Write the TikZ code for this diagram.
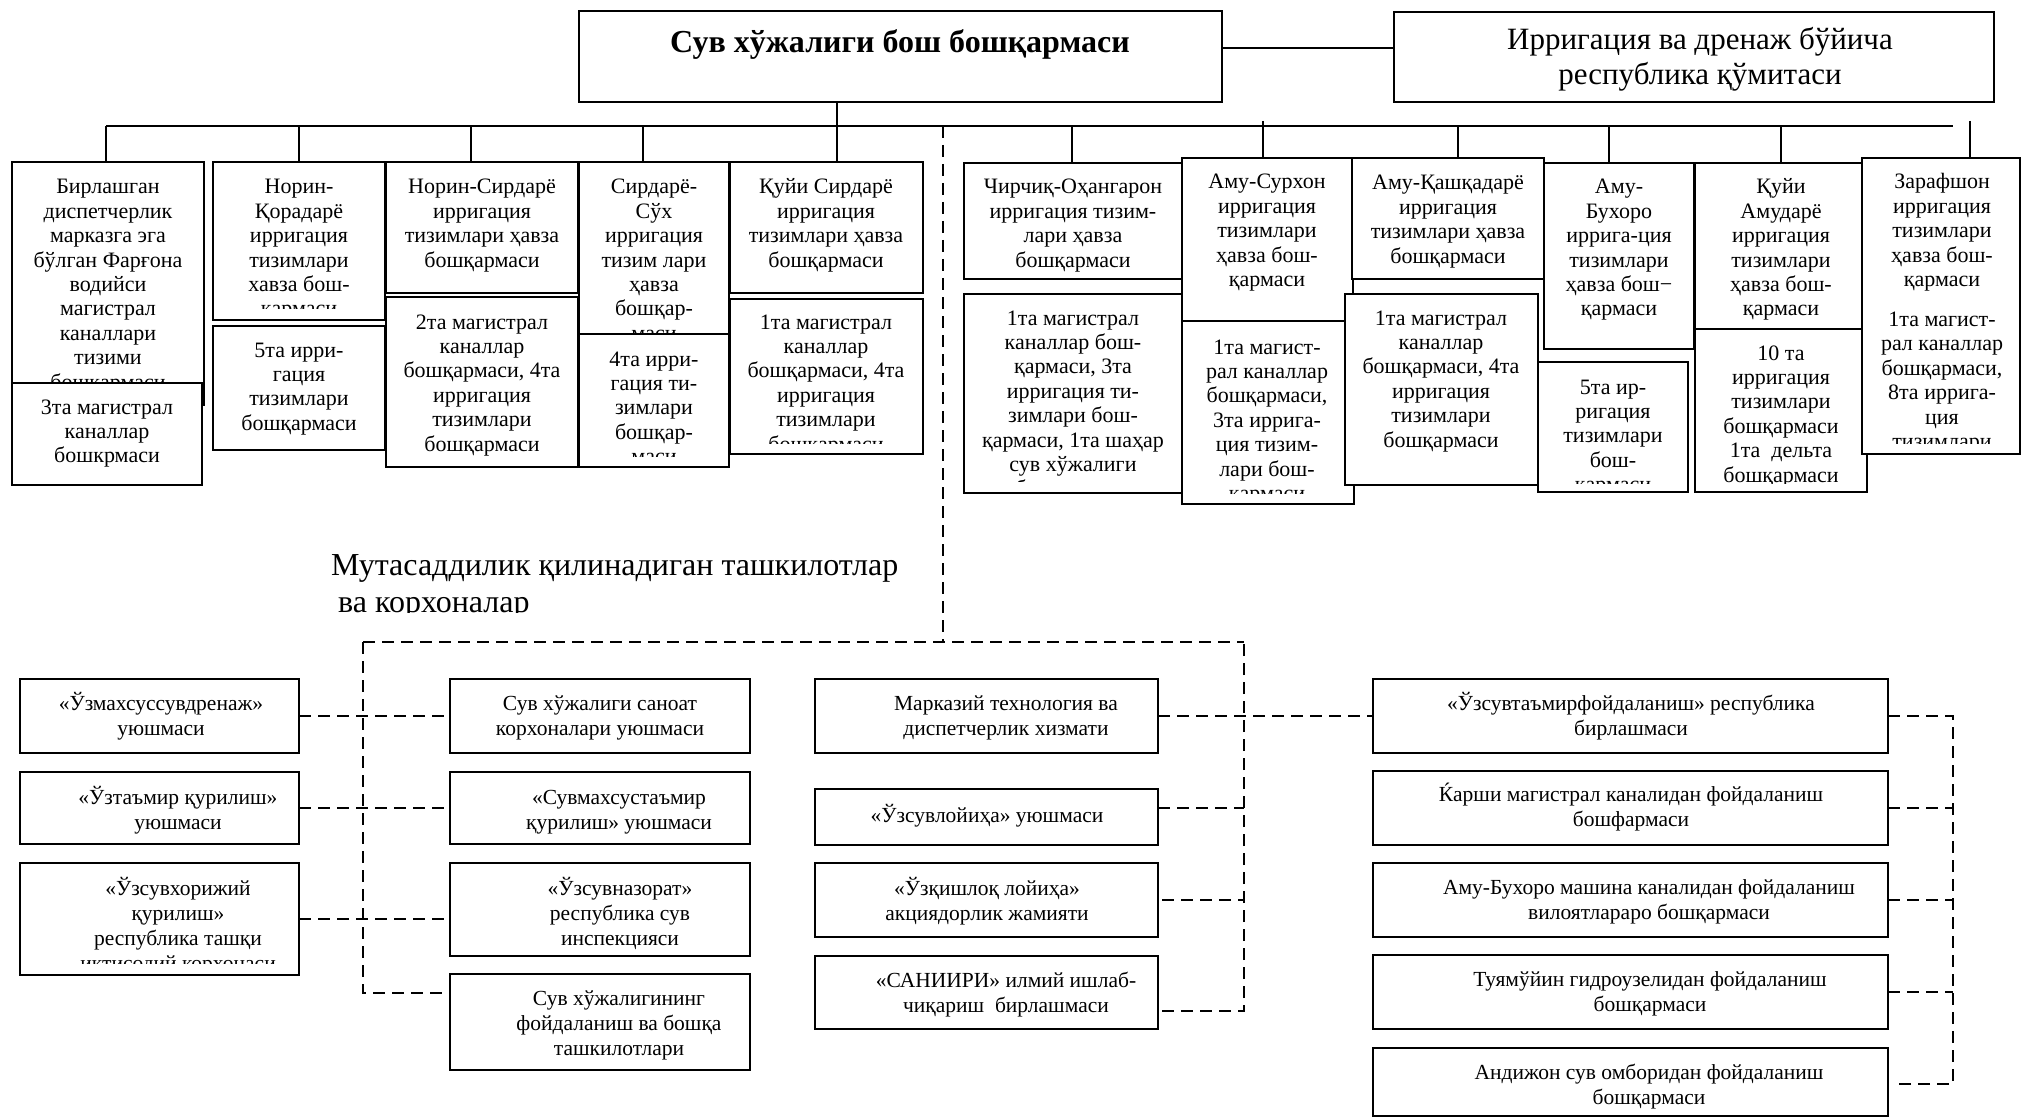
\documentclass[tikz,border=0pt]{standalone}
\usepackage{fontspec}
\setmainfont{Liberation Serif}
\tikzset{
  bx/.style={draw, line width=1.7pt, fill=white, inner sep=0pt, outer sep=0pt},
  conn/.style={line width=1.8pt},
  dconn/.style={line width=2pt, dash pattern=on 12pt off 7pt},
}
\newcommand{\tfont}{\fontsize{22}{24.4}\selectfont}
\newcommand{\bfontb}{\fontsize{21.5}{25}\selectfont}
\let\curfont\tfont
\newcommand{\bxx}[9]{%
  \node[bx, minimum width={#4-#2}, minimum height={#5-#3}] (#1) at ({(#2+#4)/2},{(#3+#5)/2}) {};
  \begin{scope}
    \clip (#2,#3) rectangle (#4,#6);
    \node[anchor=base, inner sep=0pt] at (#9,#8) {\parbox[t]{700pt}{\centering\curfont #7}};
  \end{scope}}
\begin{document}
\begin{tikzpicture}[x=1pt,y=-1pt]
\useasboundingbox (0,0) rectangle (2022,1118);

% ---------- top boxes ----------
\node[bx, minimum width=643, minimum height=91] (A) at (900.5,56.5) {};
\node[anchor=base, inner sep=0pt, font=\fontsize{32}{35}\selectfont\bfseries] (At) at (900,53) {Сув хўжалиги бош бошқармаси};
\node[bx, minimum width=600, minimum height=90] (B) at (1694,57) {};
\node[anchor=base, inner sep=0pt] (Bt) at (1700,50) {\parbox[t]{600pt}{\centering\fontsize{31}{35}\selectfont Ирригация ва дренаж бўйича\\ республика қўмитаси}};

% ---------- connectors top ----------
\draw[conn] (A.east |- 0,48) -- (B.west |- 0,48);
\coordinate (bus0) at (106,126);
\coordinate (bus1) at (1953,126);
\draw[conn] (bus0) -- (bus1);
\coordinate (a0) at (837,102);

% dashed connectors
\coordinate (d0) at (943,126);
\coordinate (d1) at (943,642);
\coordinate (dl) at (363,642);
\coordinate (dr) at (1244,642);
\draw[dconn] (d0) -- (d1);
\draw[dconn] (dl) -- (dr);

% ---------- row of top sub-boxes ----------
\bxx{L1}{12}{162}{204}{405}{405}{Бирлашган\\диспетчерлик\\марказга эга\\бўлган Фарғона\\водийси\\магистрал\\каналлари\\тизими\\бошқармаси}{194}{108}
\bxx{L1b}{12}{383}{202}{485}{485}{3та магистрал\\каналлар\\бошкрмаси}{414}{107}
\bxx{L2}{213}{162}{385}{320}{308}{Норин-\\Қорадарё\\ирригация\\тизимлари\\хавза бош-\\қармаси}{194}{299}
\bxx{L2b}{213}{326}{385}{450}{450}{5та ирри-\\гация\\тизимлари\\бошқармаси}{357}{299}
\bxx{L3}{386}{162}{578}{293}{293}{Норин-Сирдарё\\ирригация\\тизимлари ҳавза\\бошқармаси}{194}{482}
\bxx{L3b}{386}{297}{578}{467}{467}{2та магистрал\\каналлар\\бошқармаси, 4та\\ирригация\\тизимлари\\бошқармаси}{329}{482}
\bxx{L4}{579}{162}{729}{334}{334}{Сирдарё-\\Сўх\\ирригация\\тизим лари\\ҳавза\\бошқар-\\маси}{194}{654}
\bxx{L4b}{579}{334}{729}{467}{456}{4та ирри-\\гация ти-\\зимлари\\бошқар-\\маси}{366}{654}
\bxx{L5}{730}{162}{923}{293}{293}{Қуйи Сирдарё\\ирригация\\тизимлари ҳавза\\бошқармаси}{194}{826}
\bxx{L5b}{730}{299}{923}{454}{443}{1та магистрал\\каналлар\\бошқармаси, 4та\\ирригация\\тизимлари\\бошқармаси}{329}{826}

\bxx{R1}{964}{163}{1182}{279}{279}{Чирчиқ-Оҳангарон\\ирригация тизим-\\лари ҳавза\\бошқармаси}{194}{1073}
\bxx{R1b}{964}{294}{1182}{493}{481}{1та магистрал\\каналлар бош-\\қармаси, 3та\\ирригация ти-\\зимлари бош-\\қармаси, 1та шаҳар\\сув хўжалиги\\бошқармаси}{325}{1073}
\bxx{R2}{1182}{158}{1353}{321}{321}{Аму-Сурхон\\ирригация\\тизимлари\\ҳавза бош-\\қармаси}{189}{1267}
\bxx{R2b}{1182}{321}{1354}{504}{493}{1та магист-\\рал каналлар\\бошқармаси,\\3та ирригa-\\ция тизим-\\лари бош-\\қармаси}{354}{1267}
\bxx{R3}{1352}{158}{1544}{279}{279}{Аму-Қашқадарё\\ирригация\\тизимлари ҳавза\\бошқармаси}{190}{1448}
\bxx{R3b}{1345}{294}{1538}{485}{485}{1та магистрал\\каналлар\\бошқармаси, 4та\\ирригация\\тизимлари\\бошқармаси}{325}{1441}
\bxx{R4}{1544}{163}{1694}{349}{349}{Аму-\\Бухоро\\ирригa-ция\\тизимлари\\ҳавза бош−\\қармаси}{194}{1619}
\bxx{R4b}{1538}{362}{1688}{492}{483}{5та ир-\\ригация\\тизимлари\\бош-\\қармаси}{394}{1613}
\bxx{R5}{1695}{163}{1862}{329}{329}{Қуйи\\Амударё\\ирригация\\тизимлари\\ҳавза бош-\\қармаси}{194}{1781}
\bxx{R5b}{1695}{329}{1867}{492}{483}{10 та\\ирригация\\тизимлари\\бошқармаси\\1та~ дельта\\бошқармаси}{360}{1781}
\bxx{R6}{1862}{158}{2020}{454}{443}{Зарафшон\\ирригация\\тизимлари\\ҳавза бош-\\қармаси\\[15.6pt]1та магист-\\рал каналлар\\бошқармаси,\\8та ирригa-\\ция\\тизимлари}{189}{1942}

% verticals from the bus
\draw[conn] (a0) -- (L5.north -| a0);
\foreach \x/\n in {106/L1, 299/L2, 471/L3, 643/L4, 1072/R1, 1458/R3, 1609/R4, 1781/R5}
  \draw[conn] (\x,126) -- (\n.north -| \x,0);
\draw[conn] (1263,121) -- (R2.north -| 1263,0);
\draw[conn] (1970,121) -- (R6.north -| 1970,0);

% ---------- title of lower part ----------
\begin{scope}
  \clip (300,530) rectangle (950,612);
  \node[anchor=base west, inner sep=0pt] (T) at (331,575) {\parbox[t]{700pt}{\raggedright\fontsize{32}{37}\selectfont Мутасаддилик қилинадиган ташкилотлар\\ \hspace*{7pt}ва корхоналар}};
\end{scope}

% ---------- lower boxes ----------
\let\curfont\bfontb
\draw[dconn] (dl) -- (363,993) -- (450,993);

\bxx{B1}{20}{679}{299}{753}{753}{«Ўзмахсуссувдренаж»\\уюшмаси}{710}{161}
\bxx{B2}{20}{772}{299}{844}{844}{«Ўзтаъмир қурилиш»\\уюшмаси}{804}{178}
\bxx{B3}{20}{863}{299}{975}{963}{«Ўзсувхорижий\\қурилиш»\\республика ташқи\\иқтисодий корхонаси}{895}{178}
\bxx{C1}{450}{679}{750}{753}{753}{Сув хўжалиги саноат\\корхоналари уюшмаси}{710}{600}
\bxx{C2}{450}{772}{750}{844}{844}{«Сувмахсустаъмир\\қурилиш» уюшмаси}{804}{619}
\bxx{C3}{450}{863}{750}{956}{956}{«Ўзсувназорат»\\республика сув\\инспекцияси}{895}{620}
\bxx{C4}{450}{974}{750}{1070}{1070}{Сув хўжалигининг\\фойдаланиш ва бошқа\\ташкилотлари}{1005}{619}
\bxx{M1}{815}{679}{1158}{753}{753}{Марказий технология ва\\диспетчерлик хизмати}{710}{1006}
\bxx{M2}{815}{789}{1158}{845}{845}{«Ўзсувлойиҳа» уюшмаси}{822}{987}
\bxx{M3}{815}{863}{1158}{937}{937}{«Ўзқишлоқ лойиҳа»\\акциядорлик жамияти}{895}{987}
\bxx{M4}{815}{956}{1158}{1029}{1029}{«САНИИРИ» илмий ишлаб-\\чиқариш~ бирлашмаси}{987}{1006}
\bxx{N1}{1373}{679}{1888}{753}{753}{«Ўзсувтаъмирфойдаланиш» республика\\бирлашмаси}{710}{1631}
\bxx{N2}{1373}{771}{1888}{845}{845}{Ќарши магистрал каналидан фойдаланиш\\бошфармаси}{801}{1631}
\bxx{N3}{1373}{863}{1888}{937}{937}{Аму-Бухоро машина каналидан фойдаланиш\\вилоятлараро бошқармаси}{894}{1649}
\bxx{N4}{1373}{955}{1888}{1029}{1029}{Туямўйин гидроузелидан фойдаланиш\\бошқармаси}{986}{1650}
\bxx{N5}{1373}{1048}{1888}{1116}{1116}{Андижон сув омборидан фойдаланиш\\бошқармаси}{1079}{1649}

% lower dashed connectors
\draw[dconn] (B1.east) -- (C1.west);
\draw[dconn] (B2.east) -- (C2.west);
\draw[dconn] (B3.east) -- (B3.east -| C3.west);
\draw[dconn] (M1.east) -- (N1.west);
\draw[dconn] (M2.east |- 0,808) -- (dr |- 0,808);
\draw[dconn] (1162,900) -- (dr |- 0,900);
\draw[dconn] (1162,1011) -- (dr |- 0,1011) -- (dr);
\coordinate (nr) at (1953,716);
\draw[dconn] (N1.east) -- (nr) -- (1953,1084) -- (1893,1084);
\draw[dconn] (N2.east) -- (N2.east -| nr);
\draw[dconn] (N3.east) -- (N3.east -| nr);
\draw[dconn] (N4.east) -- (N4.east -| nr);
\end{tikzpicture}
\end{document}
